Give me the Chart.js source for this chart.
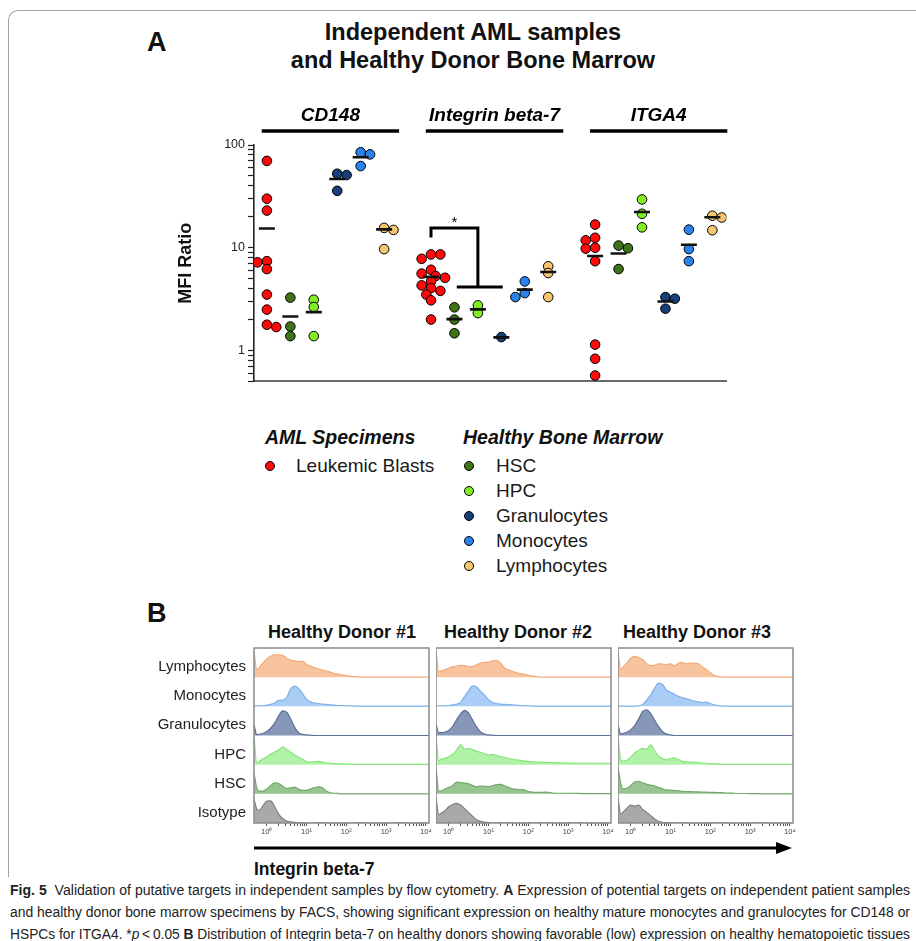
<!DOCTYPE html>
<html>
<head>
<meta charset="utf-8">
<title>Fig. 5</title>
<script src="https://cdn.jsdelivr.net/npm/chart.js@4.4.1/dist/chart.umd.min.js"></script>
<style>
  html, body { margin:0; padding:0; background:#fff; }
  body { width:916px; height:941px; position:relative; overflow:hidden;
         font-family:"Liberation Sans", Arial, Helvetica, sans-serif; color:#111; }
  #frame { position:absolute; left:8px; top:10px; width:930px; height:866px;
           border-left:1.5px solid #a0a0a0; border-top:1.5px solid #a0a0a0; border-top-left-radius:10px; }
  .letter { position:absolute; font-weight:bold; font-size:27px; line-height:30px; }
  #title { position:absolute; left:0; width:946px; top:18px; text-align:center; font-weight:bold; font-size:23.5px; line-height:28px; }
  .lgHead { position:absolute; white-space:nowrap; font-weight:bold; font-style:italic; font-size:19.5px; line-height:24px; }
  .lgText { position:absolute; white-space:nowrap; font-size:19px; line-height:24px; color:#1a1a1a; }
  .lgDot { position:absolute; box-sizing:border-box; width:10px; height:10px; border-radius:50%; border:1px solid #000; }
  .donor { position:absolute; width:220px; text-align:center; font-weight:bold; font-size:18px; line-height:22px; white-space:nowrap; }
  #axisTitle { position:absolute; left:254px; top:858px; font-weight:bold; font-size:17.5px; line-height:22px; white-space:nowrap; }
  .capline { position:absolute; left:10px; white-space:nowrap; font-family:"Liberation Sans Narrow","Liberation Sans",Arial,sans-serif;
             font-size:14px; line-height:22px; color:#222; transform-origin:0 50%; }
  canvas { position:absolute; }
</style>
</head>
<body>
<div id="frame"></div>
<div class="letter" style="left:147px;top:27px;">A</div>
<div id="title">Independent AML samples<br>and Healthy Donor Bone Marrow</div>
<canvas id="cA" width="567" height="297" style="left:170px;top:95px;"></canvas>
<div id="legend"></div>

<div class="letter" style="left:147px;top:598px;">B</div>
<div id="donorTitles"></div>
<canvas id="cB1" width="285" height="210" style="left:150px;top:631px;"></canvas>
<canvas id="cB2" width="181" height="201" style="left:436px;top:640px;"></canvas>
<canvas id="cB3" width="181" height="201" style="left:618px;top:640px;"></canvas>
<svg style="position:absolute;left:252px;top:840px;" width="545" height="16">
  <line x1="2" y1="8" x2="528" y2="8" stroke="#000" stroke-width="3"/>
  <polygon points="524,2 540,8 524,14" fill="#000"/>
</svg>
<div id="axisTitle">Integrin beta-7</div>

<div class="capline" style="top:879px;"><b>Fig. 5</b>&nbsp; Validation of putative targets in independent samples by flow cytometry. <b>A</b> Expression of potential targets on independent patient samples</div>
<div class="capline" style="top:901px;">and healthy donor bone marrow specimens by FACS, showing significant expression on healthy mature monocytes and granulocytes for CD148 or</div>
<div class="capline" style="top:923px;">HSPCs for ITGA4. *<i>p</i>&thinsp;&lt;&thinsp;0.05 <b>B</b> Distribution of Integrin beta-7 on healthy donors showing favorable (low) expression on healthy hematopoietic tissues</div>

<script>
// ---------------- Panel A data ----------------
const categories = ['Leukemic Blasts', 'HSC', 'HPC', 'Granulocytes', 'Monocytes', 'Lymphocytes'];
const categoryColors = ['#ff0a0a', '#3d7516', '#82ee22', '#173f7a', '#2a82ee', '#f6c66f'];
const targets = ['CD148', 'Integrin beta-7', 'ITGA4'];
const yTickLabels = [1, 10, 100];

// MFI ratio per category (order of `categories`)
const cd148Values = [
  [70, 30, 23, 7.4, 7.2, 6.2, 3.5, 2.5, 1.78, 1.69],
  [3.27, 1.71, 1.38],
  [3.12, 2.65, 1.38],
  [52.5, 51, 35.8],
  [85, 81, 62.4],
  [15.6, 14.9, 9.7]
];
const cd148Centers = [15.4, 2.14, 2.36, 46.6, 75.9, 15.1];

const itgb7Values = [
  [8.6, 8.6, 7.8, 6.1, 5.6, 5.3, 5.1, 4.7, 4.3, 4.05, 3.8, 3.5, 3.08, 2.0],
  [2.63, 2.0, 1.47],
  [2.75, 2.31],
  [1.35],
  [4.7, 3.62, 3.31],
  [6.6, 5.68, 3.31]
];
const itgb7Centers = [5.2, 2.02, 2.51, 1.34, 3.91, 5.8];

const itga4Values = [
  [16.8, 12.5, 11.8, 10.0, 9.8, 7.4, 1.14, 0.83, 0.57],
  [10.5, 9.9, 6.2],
  [29.5, 21.4, 15.8],
  [3.31, 3.19, 2.55],
  [15.0, 9.7, 7.4],
  [20.5, 19.7, 14.8]
];
const itga4Centers = [8.3, 8.8, 22.3, 3.0, 10.7, 19.8];

// significance annotation (Integrin beta-7: blasts vs healthy), in data units
const sigBracket = { from: 7, to: 9, top: 15.6, leftEnd: 12.6, rightEnd: 4.15, barFrom: 8.1, barTo: 10.06, starAt: 8.0, starY: 18.8, label: '*' };

// ---------------- Panel B data ----------------
const donors = ['Healthy Donor #1', 'Healthy Donor #2', 'Healthy Donor #3'];
const populations = ['Lymphocytes', 'Monocytes', 'Granulocytes', 'HPC', 'HSC', 'Isotype'];
const popFill = ['#f8c49e', '#a9cdf5', '#8797b8', '#b0f3a6', '#97c58f', '#a9a9a9'];
const popLine = ['#f2aa7a', '#7db0ea', '#5d7098', '#88e47c', '#72a96a', '#808080'];
const histTickLabels = ['10\u2070', '10\u00b9', '10\u00b2', '10\u00b3', '10\u2074'];
// log10 fluorescence positions where the histograms are read
const histLog10 = [-0.32, -0.25, -0.2, -0.1, 0, 0.1, 0.2, 0.3, 0.4, 0.5, 0.6, 0.7, 0.8, 0.9, 1.0, 1.1, 1.2, 1.3, 1.4, 1.5, 1.6, 1.7, 1.8, 1.9, 2.0, 2.1, 2.2, 2.3, 2.4, 2.5, 2.6, 3.0, 3.5, 4.08];

// normalised counts (fraction of row height), rows in order of `populations`
const donor1 = [
  [0.92,0.26,0.32,0.5,0.65,0.75,0.8,0.8,0.78,0.67,0.62,0.58,0.56,0.57,0.45,0.4,0.34,0.3,0.25,0.22,0.18,0.13,0.11,0.08,0.06,0.03,0.02,0.01,0,0,0,0,0,0],
  [0.02,0.02,0.02,0.02,0.04,0.07,0.12,0.21,0.22,0.31,0.62,0.72,0.64,0.45,0.26,0.16,0.12,0.1,0.08,0.07,0.05,0.04,0.03,0.03,0.02,0.02,0.01,0.01,0.01,0.01,0.01,0.01,0.01,0.01],
  [0.4,0.03,0.04,0.07,0.14,0.26,0.44,0.7,0.88,0.83,0.6,0.3,0.1,0.04,0.02,0.01,0,0,0,0,0,0,0,0,0,0,0,0,0,0,0,0,0,0],
  [1.0,0.06,0.1,0.2,0.27,0.38,0.45,0.52,0.64,0.55,0.44,0.35,0.26,0.19,0.11,0.09,0.1,0.12,0.09,0.06,0.05,0.04,0.03,0.03,0.02,0.02,0.02,0.01,0.01,0.01,0.01,0.01,0.01,0.01],
  [0.74,0.22,0.1,0.1,0.17,0.3,0.39,0.37,0.27,0.19,0.21,0.24,0.16,0.12,0.12,0.17,0.22,0.25,0.22,0.1,0.04,0.02,0.01,0,0,0,0,0,0,0,0,0,0,0],
  [0.85,0.5,0.45,0.6,0.78,0.79,0.58,0.32,0.16,0.07,0.04,0.02,0.01,0,0,0,0,0,0,0,0,0,0,0,0,0,0,0,0,0,0,0,0,0]
];
const donor2 = [
  [0.92,0.2,0.22,0.26,0.32,0.37,0.4,0.42,0.41,0.38,0.39,0.44,0.5,0.53,0.53,0.58,0.6,0.51,0.33,0.26,0.21,0.16,0.13,0.1,0.07,0.04,0.02,0.01,0,0,0,0,0,0],
  [0.02,0.02,0.02,0.02,0.03,0.05,0.08,0.14,0.36,0.55,0.73,0.69,0.54,0.4,0.24,0.14,0.1,0.08,0.07,0.06,0.05,0.04,0.03,0.02,0.02,0.01,0.01,0.01,0.01,0.01,0.01,0.01,0.01,0.01],
  [0.4,0.1,0.1,0.12,0.18,0.33,0.57,0.78,0.9,0.8,0.55,0.31,0.13,0.05,0.02,0.01,0,0,0,0,0,0,0,0,0,0,0,0,0,0,0,0,0,0],
  [1.0,0.15,0.18,0.23,0.28,0.37,0.52,0.72,0.55,0.58,0.54,0.48,0.44,0.39,0.34,0.37,0.33,0.29,0.26,0.22,0.19,0.17,0.15,0.13,0.12,0.1,0.09,0.09,0.08,0.08,0.07,0.06,0.05,0.05],
  [0.94,0.1,0.1,0.17,0.23,0.3,0.42,0.4,0.38,0.36,0.3,0.25,0.28,0.27,0.26,0.29,0.33,0.34,0.29,0.23,0.18,0.16,0.15,0.14,0.08,0.06,0.05,0.05,0.06,0.05,0.03,0.02,0.01,0.01],
  [0.9,0.3,0.34,0.43,0.58,0.66,0.7,0.64,0.51,0.38,0.24,0.12,0.06,0.03,0.01,0,0,0,0,0,0,0,0,0,0,0,0,0,0,0,0,0,0,0]
];
const donor3 = [
  [0.92,0.28,0.35,0.5,0.68,0.74,0.7,0.63,0.48,0.41,0.42,0.48,0.47,0.45,0.48,0.41,0.5,0.52,0.48,0.5,0.5,0.48,0.37,0.27,0.16,0.06,0.02,0.01,0,0,0,0,0,0],
  [0.01,0.01,0.01,0.01,0.01,0.01,0.02,0.07,0.22,0.4,0.65,0.83,0.78,0.58,0.5,0.43,0.36,0.3,0.27,0.23,0.19,0.16,0.14,0.15,0.1,0.05,0.03,0.01,0.01,0.01,0.01,0.01,0.01,0.01],
  [0.37,0.06,0.07,0.11,0.2,0.35,0.6,0.86,0.92,0.79,0.55,0.32,0.14,0.05,0.02,0,0,0,0,0,0,0,0,0,0,0,0,0,0,0,0,0,0,0],
  [1.0,0.17,0.13,0.16,0.27,0.42,0.5,0.58,0.55,0.71,0.5,0.3,0.22,0.17,0.22,0.24,0.18,0.12,0.1,0.09,0.08,0.07,0.06,0.05,0.04,0.03,0.02,0.01,0.01,0.01,0.01,0.01,0.01,0.01],
  [0.94,0.37,0.18,0.2,0.3,0.42,0.45,0.39,0.34,0.31,0.28,0.22,0.18,0.14,0.13,0.12,0.11,0.09,0.08,0.08,0.07,0.07,0.06,0.06,0.05,0.05,0.04,0.04,0.03,0.03,0.02,0.01,0,0],
  [0.9,0.33,0.38,0.52,0.64,0.6,0.64,0.48,0.38,0.27,0.14,0.06,0.02,0.01,0,0,0,0,0,0,0,0,0,0,0,0,0,0,0,0,0,0,0,0]
];

// ---------------- common ----------------
const FONT = '"Liberation Sans", Arial, Helvetica, sans-serif';
Chart.defaults.font.family = FONT;
Chart.defaults.color = '#222';

// ---------------- Panel A ----------------
const groupStride = 7;
const allValues = [cd148Values, itgb7Values, itga4Values];
const allCenters = [cd148Centers, itgb7Centers, itga4Centers];

// simple beeswarm: horizontal offsets (category units) so circles do not pile up
function swarm(vals) {
  const PPD = 102.5, PPC = 23.5, DIST = 6.5, STEP = 0.2;
  const order = vals.map((v, i) => i).sort((a, b) => vals[b] - vals[a]);
  const offs = new Array(vals.length).fill(0);
  const placed = [];
  let flip = 1;
  for (const i of order) {
    const y = Math.log10(vals[i]) * PPD;
    flip = -flip;
    for (let k = 0; k < 14; k++) {
      const cand = k === 0 ? 0 : (k % 2 ? flip : -flip) * Math.ceil(k / 2) * STEP;
      if (placed.every(p => Math.hypot((p.x - cand) * PPC, p.y - y) >= DIST)) {
        offs[i] = cand; placed.push({ x: cand, y }); break;
      }
    }
  }
  return offs;
}

const pointSets = categories.map((name, c) => {
  const data = [];
  allValues.forEach((tv, t) => {
    const offs = swarm(tv[c]);
    tv[c].forEach((v, j) => data.push({ x: t * groupStride + c + offs[j], y: v }));
  });
  return { label: name, data, backgroundColor: categoryColors[c], borderColor: '#000',
           borderWidth: 1, pointRadius: 4.8, pointBorderWidth: 1, order: 2 };
});
const centerSet = {
  label: 'center',
  data: allCenters.flatMap((cv, t) => cv.map((v, c) => ({ x: t * groupStride + c, y: v }))),
  pointStyle: 'line', pointRadius: 8, borderWidth: 2.6, pointBorderWidth: 2.6,
  borderColor: '#111', backgroundColor: '#111', order: 1
};

const yTickValues = [];
[0.1, 1, 10].forEach(d => { for (let k = 1; k <= 9; k++) { const v = +(k * d).toFixed(3); if (v >= 0.5) yTickValues.push(v); } });
yTickValues.push(100);

const groupHeaderPlugin = {
  id: 'groupHeaders',
  afterDraw(chart) {
    const { ctx, chartArea, scales: { x } } = chart;
    ctx.save();
    targets.forEach((name, t) => {
      const x0 = x.getPixelForValue(t * groupStride - 0.22);
      const x1 = x.getPixelForValue(t * groupStride + 5.64);
      ctx.strokeStyle = '#000'; ctx.lineWidth = 3.5;
      ctx.beginPath(); ctx.moveTo(x0, chartArea.top - 14); ctx.lineTo(x1, chartArea.top - 14); ctx.stroke();
      ctx.font = 'italic bold 19px ' + FONT;
      ctx.textAlign = 'center'; ctx.textBaseline = 'middle'; ctx.fillStyle = '#000';
      ctx.fillText(name, (x0 + x1) / 2, chartArea.top - 29);
    });
    ctx.restore();
  }
};
const sigPlugin = {
  id: 'sig',
  afterDatasetsDraw(chart) {
    const { ctx, scales: { x, y } } = chart;
    const b = sigBracket;
    ctx.save();
    ctx.strokeStyle = '#000'; ctx.lineWidth = 3; ctx.lineJoin = 'miter';
    ctx.beginPath();
    ctx.moveTo(x.getPixelForValue(b.from), y.getPixelForValue(b.leftEnd));
    ctx.lineTo(x.getPixelForValue(b.from), y.getPixelForValue(b.top));
    ctx.lineTo(x.getPixelForValue(b.to), y.getPixelForValue(b.top));
    ctx.lineTo(x.getPixelForValue(b.to), y.getPixelForValue(b.rightEnd));
    ctx.moveTo(x.getPixelForValue(b.barFrom), y.getPixelForValue(b.rightEnd));
    ctx.lineTo(x.getPixelForValue(b.barTo), y.getPixelForValue(b.rightEnd));
    ctx.stroke();
    ctx.fillStyle = '#000'; ctx.font = '15px ' + FONT; ctx.textAlign = 'center'; ctx.textBaseline = 'middle';
    ctx.fillText(b.label, x.getPixelForValue(b.starAt), y.getPixelForValue(b.starY) + 3);
    ctx.restore();
  }
};

new Chart(document.getElementById('cA'), {
  type: 'scatter',
  data: { datasets: [centerSet, ...pointSets] },
  options: {
    responsive: false, animation: false, events: [],
    layout: { padding: { top: 50, bottom: 4, left: 0, right: 10 } },
    plugins: { legend: { display: false }, tooltip: { enabled: false } },
    scales: {
      x: { type: 'linear', min: -0.55, max: 19.6,
           ticks: { display: false }, grid: { display: false, drawTicks: false },
           border: { display: true, color: '#6a6a6a', width: 2 },
           afterFit: s => { s.height = 0; } },
      y: { type: 'logarithmic', min: 0.5, max: 100,
           afterBuildTicks: s => { s.ticks = yTickValues.map(v => ({ value: v })); },
           ticks: { autoSkip: false, callback: v => yTickLabels.includes(v) ? String(v) : '',
                    font: { size: 12.5 }, color: '#222', padding: 3 },
           grid: { display: true, drawOnChartArea: false, drawTicks: true, tickLength: 6, color: '#222', tickWidth: 1.2 },
           border: { display: true, color: '#222', width: 1.6 },
           title: { display: true, text: 'MFI Ratio', font: { size: 18, weight: 'bold' }, color: '#111', padding: { top: 5, bottom: 0 } },
           afterFit: s => { s.width = 84; } }
    }
  },
  plugins: [groupHeaderPlugin, sigPlugin]
});

// legend (built from categories / colours)
(function () {
  const lg = document.getElementById('legend');
  const groups = [
    { title: 'AML Specimens', left: 265, dotDx: 0, textDx: 31, items: [0] },
    { title: 'Healthy Bone Marrow', left: 463, dotDx: 1, textDx: 33, items: [1, 2, 3, 4, 5] }
  ];
  groups.forEach(g => {
    const h = document.createElement('div');
    h.className = 'lgHead'; h.textContent = g.title;
    h.style.left = g.left + 'px'; h.style.top = (437 - 12) + 'px';
    lg.appendChild(h);
    g.items.forEach((c, k) => {
      const cy = 466 + 25 * k;
      const d = document.createElement('div');
      d.className = 'lgDot'; d.style.background = categoryColors[c];
      d.style.left = (g.left + g.dotDx) + 'px'; d.style.top = (cy - 5) + 'px';
      lg.appendChild(d);
      const t = document.createElement('div');
      t.className = 'lgText'; t.textContent = categories[c];
      t.style.left = (g.left + g.textDx) + 'px'; t.style.top = (cy - 12) + 'px';
      lg.appendChild(t);
    });
  });
})();

// ---------------- Panel B ----------------
const histTickValues = [];
for (let d = 0; d <= 3; d++) { for (let k = 1; k <= 9; k++) histTickValues.push(d + Math.log10(k)); }
histTickValues.push(4);

const boxPlugin = {
  id: 'box',
  afterDraw(chart) {
    const { ctx, chartArea: a } = chart;
    ctx.save(); ctx.strokeStyle = '#8a8a8a'; ctx.lineWidth = 1.5;
    ctx.strokeRect(a.left, a.top, a.right - a.left, a.bottom - a.top);
    ctx.restore();
  }
};

function makeHist(id, rows, showLabels) {
  const n = populations.length;
  const datasets = rows.map((h, r) => {
    const base = n - 1 - r;
    return {
      label: populations[r],
      data: histLog10.map((x, i) => ({ x, y: base + h[i] * 0.96 })),
      borderColor: popLine[r], backgroundColor: popFill[r], borderWidth: 1.2,
      pointRadius: 0, fill: { value: base }, cubicInterpolationMode: 'monotone', order: r
    };
  });
  new Chart(document.getElementById(id), {
    type: 'line',
    data: { datasets },
    options: {
      responsive: false, animation: false, events: [],
      layout: { padding: { top: 8, right: 6, left: 0, bottom: 0 } },
      plugins: { legend: { display: false }, tooltip: { enabled: false } },
      scales: {
        x: { type: 'linear', min: -0.32, max: 4.08,
             afterBuildTicks: s => { s.ticks = histTickValues.map(v => ({ value: v })); },
             ticks: { autoSkip: false, maxRotation: 0, minRotation: 0,
                      callback: v => { const k = Math.round(v); return Math.abs(v - k) < 1e-6 ? histTickLabels[k] : ''; },
                      font: { size: 7.5 }, color: '#444', padding: 1 },
             grid: { display: true, drawOnChartArea: false, drawTicks: true, tickLength: 3, color: '#555' },
             border: { display: false },
             afterFit: s => { s.height = 18; } },
        y: { type: 'linear', min: 0, max: n, display: showLabels,
             afterBuildTicks: s => { s.ticks = populations.map((p, r) => ({ value: n - 1 - r + 0.35 })); },
             ticks: { autoSkip: false, callback: v => populations[n - 1 - Math.floor(v)], font: { size: 15 }, color: '#222', padding: 8 },
             grid: { display: false, drawTicks: false },
             border: { display: false },
             afterFit: s => { s.width = showLabels ? 104 : 0; } }
      }
    },
    plugins: [boxPlugin]
  });
}
makeHist('cB1', donor1, true);
makeHist('cB2', donor2, false);
makeHist('cB3', donor3, false);

// donor titles
(function () {
  const centers = [342, 518, 697];
  const box = document.getElementById('donorTitles');
  donors.forEach((d, i) => {
    const el = document.createElement('div');
    el.className = 'donor'; el.textContent = d;
    el.style.left = (centers[i] - 110) + 'px'; el.style.top = (632 - 11) + 'px';
    box.appendChild(el);
  });
})();

// caption lines justified to the page width
document.querySelectorAll('.capline').forEach(el => {
  const w = el.getBoundingClientRect().width;
  el.style.transform = 'scaleX(' + (900 / w) + ')';
});
</script>
</body>
</html>
